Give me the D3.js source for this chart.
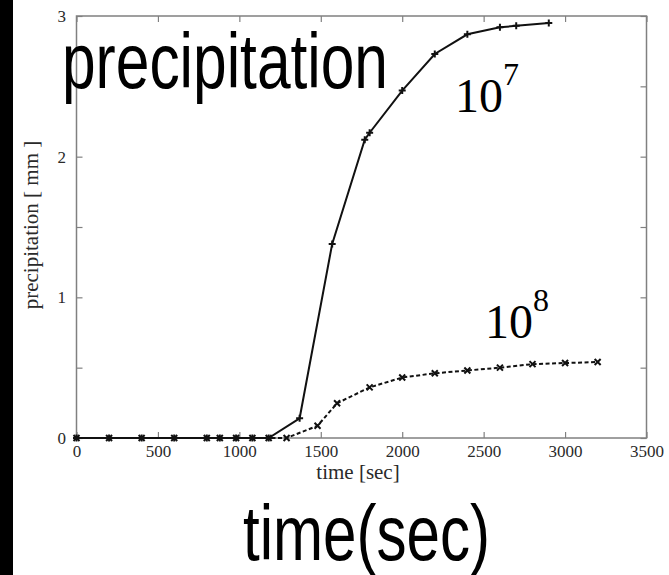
<!DOCTYPE html>
<html>
<head>
<meta charset="utf-8">
<script src="https://cdn.jsdelivr.net/npm/d3@7"></script>
<style>
  html, body { margin: 0; padding: 0; background: #fff; }
  svg { display: block; }
</style>
</head>
<body>
<svg id="chart" width="669" height="575"></svg>
<script>
// Accumulated precipitation over time for two cases (10^7 and 10^8)
const timesA = [0, 200, 400, 600, 800, 880, 980, 1080, 1180, 1370, 1570, 1770, 1800, 2000, 2200, 2400, 2600, 2700, 2900];
const valuesA = [0, 0, 0, 0, 0, 0, 0, 0, 0, 0.14, 1.38, 2.12, 2.17, 2.47, 2.73, 2.87, 2.92, 2.93, 2.95];

const timesB = [0, 200, 400, 600, 800, 880, 980, 1080, 1180, 1290, 1480, 1600, 1800, 2000, 2200, 2400, 2600, 2800, 3000, 3200];
const valuesB = [0, 0, 0, 0, 0, 0, 0, 0, 0, 0, 0.087, 0.247, 0.36, 0.43, 0.46, 0.48, 0.50, 0.525, 0.533, 0.54];

const xTicks = [0, 500, 1000, 1500, 2000, 2500, 3000, 3500];
const yTicks = [0, 1, 2, 3];
const yMinorTicks = [0.5, 1.5, 2.5];

const svg = d3.select("#chart");
const W = 669, H = 575;

const x = d3.scaleLinear().domain([0, 3500]).range([76.5, 646.5]);
const y = d3.scaleLinear().domain([0, 3]).range([438, 16]);

// dark strip along the left edge
svg.append("rect").attr("x", 0).attr("y", 0).attr("width", 13).attr("height", H).attr("fill", "#000");

const frameColor = "#808080";
const tickFont = "'Liberation Serif', 'Times New Roman', serif";

// plot frame
svg.append("rect")
  .attr("x", x(0)).attr("y", y(3))
  .attr("width", x(3500) - x(0)).attr("height", y(0) - y(3))
  .attr("fill", "none").attr("stroke", frameColor).attr("stroke-width", 1.5);

function styleAxis(g) {
  g.select(".domain").remove();
  g.selectAll(".tick line").attr("stroke", frameColor).attr("stroke-width", 1.2);
  g.selectAll(".tick text")
    .attr("fill", "#2a2a2a")
    .style("font-family", tickFont)
    .style("font-size", "17px");
}

svg.append("g").attr("transform", `translate(0,${y(0)})`)
  .call(d3.axisBottom(x).tickValues(xTicks).tickSize(-6).tickPadding(7).tickFormat(d3.format("d")))
  .call(styleAxis);

svg.append("g").attr("transform", `translate(0,${y(3)})`)
  .call(d3.axisTop(x).tickValues(xTicks).tickSize(-6).tickFormat(""))
  .call(styleAxis);

svg.append("g").attr("transform", `translate(${x(0)},0)`)
  .call(d3.axisLeft(y).tickValues(yTicks).tickSize(-6).tickPadding(10.5).tickFormat(d3.format("d")))
  .call(styleAxis);

svg.append("g").attr("transform", `translate(${x(0)},0)`)
  .call(d3.axisLeft(y).tickValues(yMinorTicks).tickSize(-6).tickFormat(""))
  .call(styleAxis);

svg.append("g").attr("transform", `translate(${x(3500)},0)`)
  .call(d3.axisRight(y).tickValues(yTicks.concat(yMinorTicks)).tickSize(-6).tickFormat(""))
  .call(styleAxis);

// axis titles
svg.append("text")
  .attr("x", 358).attr("y", 479)
  .attr("text-anchor", "middle")
  .attr("fill", "#2a2a2a")
  .style("font-family", tickFont).style("font-size", "21px")
  .text("time [sec]");

svg.append("text")
  .attr("transform", "translate(38,225) rotate(-90)")
  .attr("text-anchor", "middle")
  .attr("fill", "#2a2a2a")
  .style("font-family", tickFont).style("font-size", "21px")
  .text("precipitation [ mm ]");

// series lines
const seriesA = timesA.map((t, i) => ({ t, v: valuesA[i] }));
const seriesB = timesB.map((t, i) => ({ t, v: valuesB[i] }));
const line = d3.line().x(d => x(d.t)).y(d => y(d.v));

svg.append("path").datum(seriesB)
  .attr("d", line).attr("fill", "none")
  .attr("stroke", "#111").attr("stroke-width", 2)
  .attr("stroke-dasharray", "4,2.5");

svg.append("path").datum(seriesA)
  .attr("d", line).attr("fill", "none")
  .attr("stroke", "#111").attr("stroke-width", 2);

// point markers: plus for 10^7, cross for 10^8
const plusType = {
  draw(ctx, size) {
    const r = Math.sqrt(size) / 2;
    ctx.moveTo(-r, 0); ctx.lineTo(r, 0);
    ctx.moveTo(0, -r); ctx.lineTo(0, r);
  }
};
const crossType = {
  draw(ctx, size) {
    const r = Math.sqrt(size) / 2;
    ctx.moveTo(-r, -r); ctx.lineTo(r, r);
    ctx.moveTo(-r, r); ctx.lineTo(r, -r);
  }
};

svg.append("g").selectAll("path").data(seriesB).join("path")
  .attr("transform", d => `translate(${x(d.t)},${y(d.v)})`)
  .attr("d", d3.symbol(crossType, 36))
  .attr("fill", "none").attr("stroke", "#111").attr("stroke-width", 2);

svg.append("g").selectAll("path").data(seriesA).join("path")
  .attr("transform", d => `translate(${x(d.t)},${y(d.v)})`)
  .attr("d", d3.symbol(plusType, 49))
  .attr("fill", "none").attr("stroke", "#111").attr("stroke-width", 2);

// series labels
const labelFont = "'Liberation Serif', 'Times New Roman', serif";
function powerLabel(px, py, exp) {
  const t = svg.append("text")
    .attr("x", px).attr("y", py)
    .attr("fill", "#000")
    .style("font-family", labelFont).style("font-size", "48px");
  t.append("tspan").text("10");
  t.append("tspan").attr("dy", -27).style("font-size", "32px").text(exp);
}
powerLabel(455, 112, "7");
powerLabel(485, 338, "8");

// large annotations
const bigFont = "'Liberation Sans Narrow', 'Arial Narrow', 'Liberation Sans', Arial, sans-serif";
svg.append("text")
  .attr("x", 62).attr("y", 88)
  .attr("textLength", 326).attr("lengthAdjust", "spacingAndGlyphs")
  .attr("fill", "#000")
  .style("font-family", bigFont).style("font-size", "78px")
  .text("precipitation");

svg.append("text")
  .attr("x", 243).attr("y", 560)
  .attr("textLength", 247).attr("lengthAdjust", "spacingAndGlyphs")
  .attr("fill", "#000")
  .style("font-family", bigFont).style("font-size", "78px")
  .text("time(sec)");
</script>
</body>
</html>
